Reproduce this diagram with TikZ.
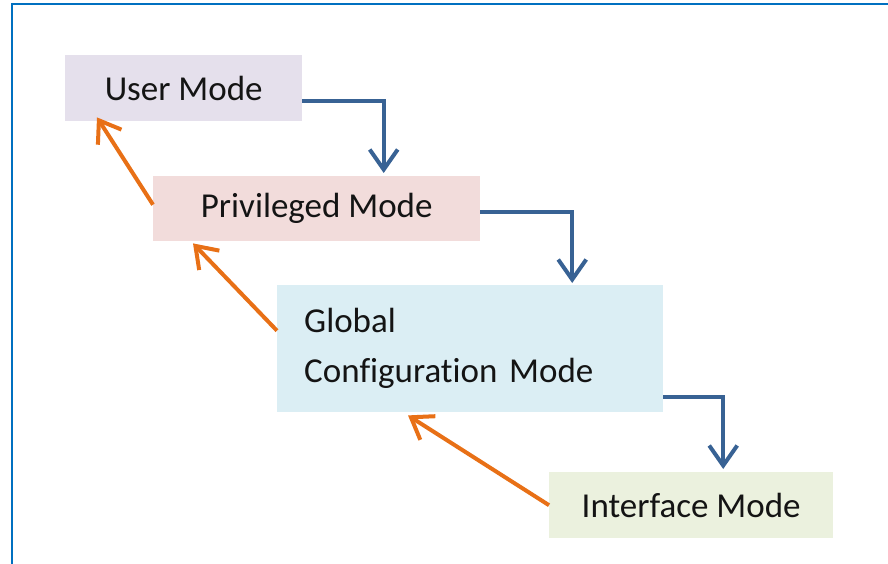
\documentclass[tikz,border=0pt]{standalone}
\usepackage{fontspec}
\setmainfont{Carlito}[Ligatures=NoCommon]
\usetikzlibrary{arrows.meta}

\definecolor{frameblue}{RGB}{0,112,192}
\definecolor{lineblue}{RGB}{56,98,148}
\definecolor{lineorange}{RGB}{232,112,22}
\definecolor{userfill}{RGB}{229,224,236}
\definecolor{privfill}{RGB}{242,220,219}
\definecolor{globfill}{RGB}{219,238,244}
\definecolor{ifacefill}{RGB}{235,241,222}

\begin{document}
\begin{tikzpicture}[x=1pt, y=-1pt,
	modebox/.style={anchor=north west, inner sep=0pt, align=left,
		text=black!92, font=\fontsize{35}{50}\selectfont},
	godown/.style={lineblue, line width=4pt,
		-{Straight Barb[length=20pt, width=28pt, line width=4pt]}},
	goback/.style={lineorange, line width=4pt,
		-{Straight Barb[length=20pt, width=28pt, line width=4pt]}}]
	% размеры картинки
	\useasboundingbox (0,0) rectangle (888,564);

	% рамка слева и сверху
	\draw[frameblue, line width=2.5pt] (11,4) -- (888,4);
	\draw[frameblue, line width=2.5pt] (12,3) -- (12,564);

	% режимы
	\node[modebox, fill=userfill, minimum width=237pt,
		minimum height=66pt] (user) at (65,55) {User Mode};
	\node[modebox, fill=privfill, minimum width=327pt,
		minimum height=65pt] (priv) at (153,176) {Privileged Mode};
	\node[modebox, fill=globfill, inner xsep=27pt, text width=332pt,
		minimum height=127pt] (global) at (277,285) {Global\\\mbox{Configuration Mode}};
	\node[modebox, fill=ifacefill, minimum width=284pt,
		minimum height=66pt] (iface) at (549,472) {Interface Mode};

	% переходы вниз
	\draw[godown, shorten >=3pt] ([yshift=-13pt]user.east) -| ([xshift=67pt]priv.north);
	\draw[godown, shorten >=2pt] ([yshift=-3pt]priv.east) -| ([xshift=102pt]global.north);
	\draw[godown, shorten >=3pt] ([yshift=-48pt]global.east) -| ([xshift=32pt]iface.north);

	% переходы назад
	\draw[goback] ([yshift=4pt]priv.west) -- ([xshift=32pt, yshift=4pt]user.south west);
	\draw[goback] ([yshift=18pt]global.west) -- ([xshift=40pt, yshift=-2pt]priv.south west);
	\draw[goback] (iface.west) -- ([xshift=131pt, yshift=-3pt]global.south west);
\end{tikzpicture}
\end{document}
